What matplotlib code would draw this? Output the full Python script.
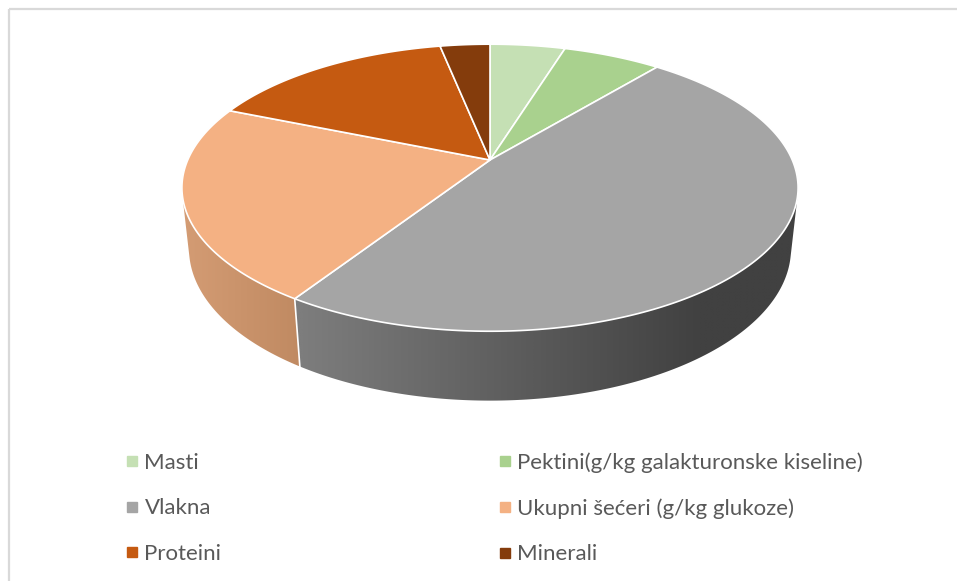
import numpy as np
import matplotlib.pyplot as plt
from matplotlib.patches import Polygon
from matplotlib.lines import Line2D
import matplotlib.colors as mcolors

# udio sastojaka (%)
sastojci = ['Masti', 'Pektini(g/kg galakturonske kiseline)', 'Vlakna',
            'Ukupni šećeri (g/kg glukoze)', 'Proteini', 'Minerali']
udio = [4.75, 6.2, 48.15, 22.15, 15.6, 3.15]
boje = ['#c5e0b4', '#a9d18e', '#a5a5a5', '#f4b183', '#c55a11', '#843c0c']

# boje bocnih strana (lijevo -> desno)
bocne_boje = {2: ('#7d7d7d', '#414141'), 3: ('#d49c74', '#c08a62')}

plt.rcParams['font.family'] = ['Lato', 'DejaVu Sans']

# perspektiva 3D tortice
cx, cy = 490, 160
elev = np.deg2rad(27.2)
s, c = np.sin(elev), np.cos(elev)
D = 4.605
f = 1392
h = 0.2285


def projekcija(theta, y):
    X = np.sin(theta)
    Z = np.cos(theta)
    xc = X
    yc = Z * s + y * c
    zc = D + Z * c - y * s
    return cx + f * xc / zc, cy - f * yc / zc


fig = plt.figure(figsize=(9.57, 5.81), dpi=100)
ax = fig.add_axes([0, 0, 1, 1])
ax.set_xlim(0, 957)
ax.set_ylim(581, 0)
ax.axis('off')

# okvir (samo gornji i lijevi rub je vidljiv)
ax.plot([9, 9], [581, 9], color='#d9d9d9', lw=1.6, solid_capstyle='butt')
ax.plot([9, 957], [9, 9], color='#d9d9d9', lw=1.6, solid_capstyle='butt')

kut = np.cumsum([0] + udio) / sum(udio) * 2 * np.pi
# vidljivi dio plasta
sil = np.arccos(-1 / (D * c))
vid_od, vid_do = sil, 2 * np.pi - sil

# bocne strane
for i in range(len(udio)):
    a, b = max(kut[i], vid_od), min(kut[i + 1], vid_do)
    if a >= b:
        continue
    t = np.linspace(a, b, 200)
    xt, yt = projekcija(t, 0)
    xb, yb = projekcija(t[::-1], -h)
    pts = np.column_stack([np.r_[xt, xb], np.r_[yt, yb]])
    poly = Polygon(pts, closed=True, transform=ax.transData)
    x0, x1 = pts[:, 0].min(), pts[:, 0].max()
    y0, y1 = pts[:, 1].min(), pts[:, 1].max()
    lijevo, desno = bocne_boje[i]
    cmap = mcolors.LinearSegmentedColormap.from_list('g', [lijevo, desno])
    if i == 2:
        grad = np.clip((np.linspace(x0, x1, 300) - 300) / 400, 0, 1)
    else:
        grad = np.linspace(0, 1, 300)
    im = ax.imshow(grad[None, :], cmap=cmap, vmin=0, vmax=1, aspect='auto',
                   extent=(x0, x1, y1, y0), interpolation='bilinear', zorder=1)
    im.set_clip_path(poly)

# bijela okomita crta izmedu bocnih strana
for k in kut:
    if vid_od < k < vid_do:
        xa, ya = projekcija(k, 0)
        xb, yb = projekcija(k, -h)
        ax.plot([xa, xb], [ya, yb], color='white', lw=1.2, zorder=2)

# gornja ploha
for i in range(len(udio)):
    t = np.linspace(kut[i], kut[i + 1], 200)
    xt, yt = projekcija(t, 0)
    pts = np.column_stack([np.r_[cx, xt], np.r_[cy, yt]])
    ax.add_patch(Polygon(pts, closed=True, facecolor=boje[i], edgecolor='white',
                         lw=1.2, joinstyle='round', zorder=3))

# legenda (redoslijed po stupcima)
red = [0, 2, 4, 1, 3, 5]
handles = [Line2D([], [], marker='s', ls='', markersize=6.5, color=boje[j]) for j in red]
labels = [sastojci[j] for j in red]
ax.legend(handles, labels, ncol=2, loc='upper left', bbox_to_anchor=(124.7, 452.2),
          bbox_transform=ax.transData, frameon=False, fontsize=16,
          handlelength=0.7, handletextpad=0.19, labelspacing=1.15,
          columnspacing=12.41, borderpad=0, borderaxespad=0, labelcolor='#595959')

fig.savefig('out.png', dpi=100)
